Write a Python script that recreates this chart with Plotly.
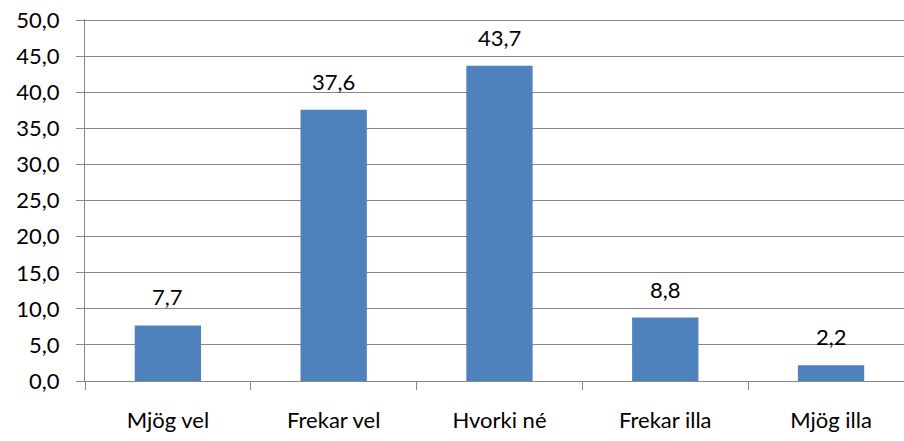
import plotly.graph_objects as go

categories = ["Mjög vel", "Frekar vel", "Hvorki né", "Frekar illa", "Mjög illa"]
values = [7.7, 37.6, 43.7, 8.8, 2.2]
y_ticks = [0, 5, 10, 15, 20, 25, 30, 35, 40, 45, 50]

font_family = "Lato, Carlito, Liberation Sans, sans-serif"
fsize = 22
grid_color = "#868686"

fig = go.Figure(go.Bar(
    x=categories, y=values,
    marker=dict(color="#4F81BD", line=dict(width=0)),
    hoverinfo="x+y",
))

for c, v in zip(categories, values):
    fig.add_annotation(
        x=c, y=v, text=f"{v:.1f}".replace(".", ","),
        showarrow=False, yanchor="bottom", yshift=13,
        font=dict(size=fsize, color="#000000", family=font_family),
    )

fig.update_layout(
    width=904, height=441,
    margin=dict(l=85, r=0, t=18.5, b=60, autoexpand=False),
    paper_bgcolor="white", plot_bgcolor="white",
    separators=",.",
    bargap=0.6,
    showlegend=False,
    font=dict(family=font_family, size=fsize, color="#000000"),
)
fig.update_xaxes(
    type="category", range=[-0.5, 4.44],
    showline=True, linecolor=grid_color, linewidth=1,
    ticks="outside", tickson="boundaries", ticklen=8, tickcolor=grid_color,
    showgrid=False, tickfont=dict(size=fsize, family=font_family), ticklabelstandoff=20,
    automargin=False,
)
fig.update_yaxes(
    # small headroom so the top gridline is not clipped at the plot edge
    range=[0, max(y_ticks) + 0.2], tickvals=y_ticks, tickformat=".1f",
    ticklabeloverflow="allow", ticklabelstandoff=12,
    showline=True, linecolor=grid_color, linewidth=1,
    ticks="outside", ticklen=8, tickcolor=grid_color,
    showgrid=True, gridcolor=grid_color, gridwidth=1,
    zeroline=False, tickfont=dict(size=fsize, family=font_family), automargin=False,
)

fig.write_html("out.html", config={"displayModeBar": False},
               post_script="document.body.style.margin='0';")
